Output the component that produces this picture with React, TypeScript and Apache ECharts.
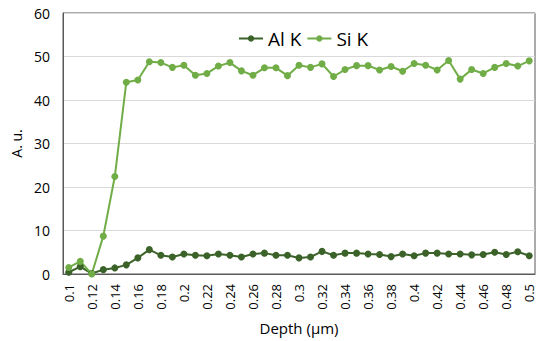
import React, { useEffect, useRef } from "react";
import * as echarts from "echarts";

const depths = [
  "0.1", "0.11", "0.12", "0.13", "0.14", "0.15", "0.16", "0.17", "0.18", "0.19",
  "0.2", "0.21", "0.22", "0.23", "0.24", "0.25", "0.26", "0.27", "0.28", "0.29",
  "0.3", "0.31", "0.32", "0.33", "0.34", "0.35", "0.36", "0.37", "0.38", "0.39",
  "0.4", "0.41", "0.42", "0.43", "0.44", "0.45", "0.46", "0.47", "0.48", "0.49", "0.5",
];

const alK = [
  0.4, 1.7, 0.1, 1.0, 1.4, 2.1, 3.7, 5.6, 4.3, 3.9,
  4.6, 4.3, 4.2, 4.6, 4.3, 3.9, 4.6, 4.8, 4.3, 4.3,
  3.7, 3.9, 5.2, 4.3, 4.8, 4.8, 4.6, 4.5, 4.0, 4.6,
  4.2, 4.8, 4.8, 4.6, 4.6, 4.4, 4.5, 5.0, 4.5, 5.1, 4.2,
];

const siK = [
  1.5, 2.9, 0, 8.7, 22.4, 44.1, 44.6, 48.8, 48.6, 47.5,
  48.0, 45.7, 46.1, 47.8, 48.6, 46.7, 45.7, 47.4, 47.4, 45.6,
  48.0, 47.5, 48.3, 45.4, 47.0, 47.9, 47.9, 46.9, 47.7, 46.6,
  48.4, 48.0, 46.9, 49.1, 44.8, 47.0, 46.1, 47.5, 48.4, 47.8, 49.0,
];

const FONT = "'Open Sans', 'Noto Sans', sans-serif";

export default function App() {
  const ref = useRef<HTMLDivElement>(null);
  useEffect(() => {
    document.body.style.margin = "0";
    const chart = echarts.init(ref.current!, null, { renderer: "svg" });
    chart.setOption({
      animation: false,
      textStyle: { fontFamily: FONT },
      grid: {
        left: 63,
        right: 1,
        top: 13,
        bottom: 67,
        show: true,
        borderColor: "#595959",
        borderWidth: 1,
        containLabel: false,
      },
      legend: {
        left: 233,
        top: 24,
        itemGap: 5,
        itemWidth: 24,
        itemHeight: 8,
        textStyle: { fontSize: 19, color: "#000", fontFamily: FONT },
        data: ["Al K", "Si K"],
      },
      xAxis: {
        type: "category",
        data: depths,
        boundaryGap: true,
        name: "Depth (µm)",
        nameLocation: "middle",
        nameGap: 46,
        nameTextStyle: { fontSize: 15, color: "#000", fontFamily: FONT },
        axisLine: { lineStyle: { color: "#595959", width: 1 } },
        axisTick: { show: false },
        axisLabel: {
          interval: 1,
          rotate: 90,
          fontSize: 13,
          color: "#000",
          margin: 10,
          fontFamily: FONT,
        },
        splitLine: { show: false },
      },
      yAxis: {
        type: "value",
        min: 0,
        max: 60,
        interval: 10,
        name: "A. u.",
        nameLocation: "middle",
        nameGap: 40,
        nameTextStyle: { fontSize: 14, color: "#000", fontFamily: FONT },
        axisLine: { show: true, lineStyle: { color: "#595959", width: 1 } },
        axisTick: { show: false },
        axisLabel: { fontSize: 14, color: "#000", margin: 13, fontFamily: FONT },
        splitLine: { lineStyle: { color: "#d9d9d9", width: 1 } },
      },
      series: [
        {
          name: "Al K",
          type: "line",
          data: alK,
          symbol: "circle",
          symbolSize: 7,
          color: "#3b6329",
          lineStyle: { width: 2, color: "#3b6329" },
          itemStyle: { color: "#3b6329" },
        },
        {
          name: "Si K",
          type: "line",
          data: siK,
          symbol: "circle",
          symbolSize: 7,
          color: "#70ad47",
          lineStyle: { width: 2, color: "#70ad47" },
          itemStyle: { color: "#70ad47" },
        },
      ],
    });
    return () => chart.dispose();
  }, []);
  return <div ref={ref} style={{ width: 536, height: 341 }} />;
}
